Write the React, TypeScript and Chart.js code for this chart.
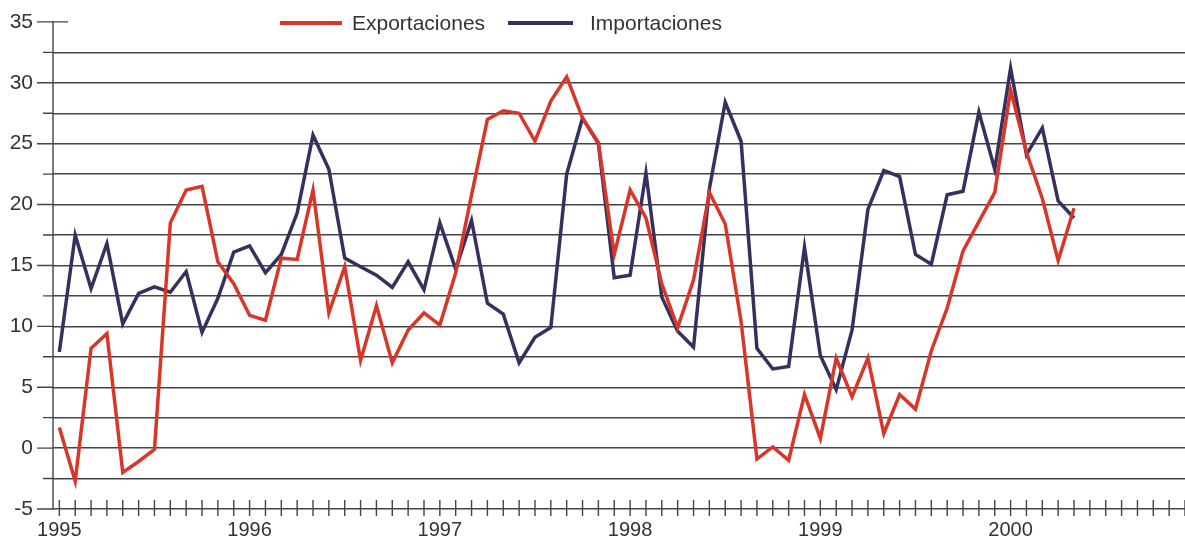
import React, { useEffect, useRef } from 'react';
import { Chart, registerables } from 'chart.js';

Chart.register(...registerables);

// ---- data ----
const seriesLabels = ['Exportaciones', 'Importaciones'];
const yearLabels = ['1995', '1996', '1997', '1998', '1999', '2000'];
const monthTicks = Array.from({ length: 72 }, (_, i) => i);
const yTickValues = [-5, -2.5, 0, 2.5, 5, 7.5, 10, 12.5, 15, 17.5, 20, 22.5, 25, 27.5, 30, 32.5, 35];

const exportaciones = [
  1.7, -2.7, 8.2, 9.4, -2.0, -1.1, -0.1, 18.5, 21.2, 21.5, 15.3, 13.5,
  10.9, 10.5, 15.6, 15.5, 21.2, 11.1, 14.9, 7.2, 11.7, 7.0, 9.7, 11.1,
  10.1, 14.4, 20.8, 27.0, 27.7, 27.5, 25.2, 28.5, 30.5, 27.1, 25.1, 15.9,
  21.2, 18.9, 13.5, 9.9, 13.8, 21.0, 18.4, 10.4, -0.9, 0.1, -1.0, 4.4,
  0.8, 7.4, 4.2, 7.4, 1.2, 4.4, 3.2, 8.0, 11.5, 16.2, 18.6, 21.0,
  29.4, 24.3, 20.5, 15.4, 19.7,
];

const importaciones = [
  7.9, 17.5, 13.1, 16.8, 10.2, 12.7, 13.25, 12.8, 14.5, 9.5, 12.3, 16.1,
  16.6, 14.4, 15.9, 19.3, 25.7, 22.9, 15.6, 14.9, 14.2, 13.2, 15.3, 13.0,
  18.5, 14.7, 18.7, 11.9, 11.0, 7.0, 9.1, 9.9, 22.5, 27.1, 25.0, 14.0,
  14.2, 22.6, 12.4, 9.6, 8.3, 21.3, 28.4, 25.2, 8.2, 6.5, 6.7, 16.5,
  7.6, 4.8, 9.7, 19.6, 22.8, 22.3, 15.9, 15.1, 20.8, 21.1, 27.6, 22.9,
  31.2, 24.1, 26.3, 20.3, 18.9,
];

// ---- styles ----
const RED = '#d9362a';
const NAVY = '#35305e';
const GRID = '#45444c';
const TEXT = '#333333';
const FONT = "'Liberation Sans', Arial, Helvetica, sans-serif";

const axisDecor = {
  id: 'axisDecor',
  beforeDatasetsDraw(chart: any) {
    const { ctx, chartArea, scales } = chart;
    const xs = scales.x;
    const ys = scales.y;
    const left = chartArea.left;
    ctx.save();
    ctx.strokeStyle = GRID;
    ctx.lineWidth = 1.4;
    ctx.beginPath();
    ctx.moveTo(left, ys.getPixelForValue(35) - 1);
    ctx.lineTo(left, ys.getPixelForValue(-5) + 1);
    yTickValues.forEach((v) => {
      const py = ys.getPixelForValue(v);
      const major = v % 5 === 0;
      ctx.moveTo(left - (major ? 16 : 10), py);
      ctx.lineTo(v === 35 ? left + 15 : left, py);
    });
    const by = ys.getPixelForValue(-5);
    monthTicks.forEach((m) => {
      const px = xs.getPixelForValue(m);
      if (px > chartArea.right + 1) return;
      ctx.moveTo(px, by - 9);
      ctx.lineTo(px, by + 7);
    });
    ctx.stroke();
    ctx.restore();
  },
};

const legendPos = [
  { x0: 280, x1: 342, tx: 352 },
  { x0: 508, x1: 573, tx: 590 },
];

const customLegend = {
  id: 'customLegend',
  afterDraw(chart: any) {
    const { ctx } = chart;
    ctx.save();
    chart.data.datasets.forEach((ds: any, i: number) => {
      const p = legendPos[i];
      const y = 23;
      ctx.strokeStyle = ds.borderColor;
      ctx.lineWidth = 4;
      ctx.beginPath();
      ctx.moveTo(p.x0, y);
      ctx.lineTo(p.x1, y);
      ctx.stroke();
      ctx.fillStyle = TEXT;
      ctx.font = `21px ${FONT}`;
      ctx.textBaseline = 'middle';
      ctx.textAlign = 'left';
      ctx.fillText(ds.label, p.tx, y + 1);
    });
    ctx.restore();
  },
};

export default function App() {
  const ref = useRef<HTMLCanvasElement | null>(null);

  useEffect(() => {
    if (!ref.current) return;
    const chart = new Chart(ref.current, {
      type: 'line',
      data: {
        datasets: [
          {
            label: seriesLabels[0],
            data: exportaciones.map((v, i) => ({ x: i, y: v })),
            borderColor: RED,
            backgroundColor: RED,
            borderWidth: 3.5,
            pointRadius: 0,
            tension: 0,
            borderJoinStyle: 'miter',
          },
          {
            label: seriesLabels[1],
            data: importaciones.map((v, i) => ({ x: i, y: v })),
            borderColor: NAVY,
            backgroundColor: NAVY,
            borderWidth: 3.5,
            pointRadius: 0,
            tension: 0,
            borderJoinStyle: 'miter',
          },
        ],
      },
      options: {
        responsive: false,
        animation: false,
        layout: { padding: 0 },
        plugins: {
          legend: { display: false },
          tooltip: { enabled: false },
        },
        scales: {
          x: {
            type: 'linear',
            min: -0.4,
            max: 71,
            afterBuildTicks: (axis: any) => {
              axis.ticks = monthTicks.map((v) => ({ value: v }));
            },
            afterFit: (s: any) => {
              s.height = 33;
              s.paddingLeft = 0;
              s.paddingRight = 0;
            },
            grid: { display: false, drawTicks: false },
            border: { display: false },
            ticks: {
              autoSkip: false,
              maxRotation: 0,
              padding: 9,
              color: TEXT,
              font: { family: FONT, size: 20 },
              callback: (v: any) => {
                const n = Number(v);
                return n % 12 === 0 ? yearLabels[n / 12] ?? '' : '';
              },
            },
          },
          y: {
            type: 'linear',
            min: -5,
            max: 36.8,
            afterBuildTicks: (axis: any) => {
              axis.ticks = yTickValues.map((v) => ({ value: v }));
            },
            afterFit: (s: any) => {
              s.width = 53;
              s.paddingTop = 0;
              s.paddingBottom = 0;
            },
            grid: {
              drawTicks: false,
              lineWidth: 1.4,
              color: (c: any) => (c.tick && c.tick.value === 35 ? 'rgba(0,0,0,0)' : GRID),
            },
            border: { display: false },
            ticks: {
              padding: 20,
              color: TEXT,
              font: { family: FONT, size: 21 },
              callback: (v: any) => (Number(v) % 5 === 0 ? String(v) : ''),
            },
          },
        },
      },
      plugins: [axisDecor, customLegend],
    } as any);
    return () => chart.destroy();
  }, []);

  return (
    <div style={{ position: 'absolute', left: 0, top: 0, width: 1185, height: 542, background: '#fff' }}>
      <canvas ref={ref} width={1185} height={542} />
    </div>
  );
}
